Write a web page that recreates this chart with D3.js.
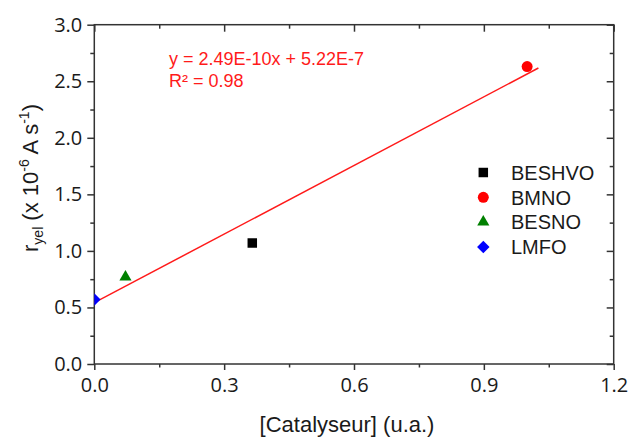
<!DOCTYPE html>
<html>
<head>
<meta charset="utf-8">
<script src="https://cdn.jsdelivr.net/npm/d3@7"></script>
<style>
  html, body { margin: 0; padding: 0; background: #fff; }
  svg { display: block; }
</style>
</head>
<body>
<div id="chart"></div>
<script>
// ---- data ----
const categories = ["BESHVO", "BMNO", "BESNO", "LMFO"];
const xValues = [0.365, 1.0, 0.072, 0.0];
const yValues = [1.07, 2.63, 0.77, 0.57];
const seriesColors = ["#000000", "#ff0000", "#008000", "#0000ff"];
const seriesShapes = ["square", "circle", "triangle", "diamond"];
const fitX = [0, 1.026];
const fitY = [0.542, 2.617];
const xTicks = [0, 0.3, 0.6, 0.9, 1.2];
const xTickLabels = ["0.0", "0.3", "0.6", "0.9", "1.2"];
const xMinorTicks = [0.15, 0.45, 0.75, 1.05];
const yTicks = [0, 0.5, 1.0, 1.5, 2.0, 2.5, 3.0];
const yTickLabels = ["0.0", "0.5", "1.0", "1.5", "2.0", "2.5", "3.0"];
const yMinorTicks = [0.25, 0.75, 1.25, 1.75, 2.25, 2.75];
const equationLines = ["y = 2.49E-10x + 5.22E-7", "R² = 0.98"];

// ---- layout ----
const W = 630, H = 437;
const L = 94.3, R = 613.7, T = 24.7, B = 364;
const axisColor = "#333";
const sansFont = "'Liberation Sans', Arial, sans-serif";
const tickFont = "'Open Sans', 'Liberation Sans', sans-serif";

const svg = d3.select("#chart").append("svg").attr("width", W).attr("height", H);

const x = d3.scaleLinear().domain([0, 1.2]).range([L, R]);
const y = d3.scaleLinear().domain([0, 3.0]).range([B, T]);

svg.append("defs").append("clipPath").attr("id", "clip")
  .append("rect").attr("x", L).attr("y", T).attr("width", R - L).attr("height", B - T);

// axes with d3 axis generators
function styleAxis(g) {
  g.select(".domain").remove();
  g.selectAll("line").attr("stroke", axisColor).attr("stroke-width", 1.5);
  g.selectAll("text").attr("fill", "#1a1a1a").attr("font-family", tickFont).attr("font-size", 20);
}
// bottom major
svg.append("g").attr("transform", `translate(0,${B})`)
  .call(d3.axisBottom(x).tickValues(xTicks).tickFormat((d, i) => xTickLabels[i]).tickSize(6).tickPadding(8))
  .call(styleAxis);
// bottom minor
svg.append("g").attr("transform", `translate(0,${B})`)
  .call(d3.axisBottom(x).tickValues(xMinorTicks).tickFormat("").tickSize(3.5))
  .call(styleAxis);
// left major
svg.append("g").attr("transform", `translate(${L},0)`)
  .call(d3.axisLeft(y).tickValues(yTicks).tickFormat((d, i) => yTickLabels[i]).tickSize(7).tickPadding(5))
  .call(styleAxis);
// left minor
svg.append("g").attr("transform", `translate(${L},0)`)
  .call(d3.axisLeft(y).tickValues(yMinorTicks).tickFormat("").tickSize(4))
  .call(styleAxis);
// top (inward)
svg.append("g").attr("transform", `translate(0,${T})`)
  .call(d3.axisTop(x).tickValues(xTicks).tickFormat("").tickSize(-7))
  .call(styleAxis);
svg.append("g").attr("transform", `translate(0,${T})`)
  .call(d3.axisTop(x).tickValues(xMinorTicks).tickFormat("").tickSize(-4))
  .call(styleAxis);
// right (inward)
svg.append("g").attr("transform", `translate(${R},0)`)
  .call(d3.axisRight(y).tickValues(yTicks).tickFormat("").tickSize(-7))
  .call(styleAxis);
svg.append("g").attr("transform", `translate(${R},0)`)
  .call(d3.axisRight(y).tickValues(yMinorTicks).tickFormat("").tickSize(-4))
  .call(styleAxis);

// frame
svg.append("rect").attr("x", L).attr("y", T).attr("width", R - L).attr("height", B - T)
  .attr("fill", "none").attr("stroke", axisColor).attr("stroke-width", 1.5);

// symbols
function symbolPath(shape) {
  if (shape === "square") return d3.symbol(d3.symbolSquare, 90)();
  if (shape === "circle") return d3.symbol(d3.symbolCircle, 95)();
  if (shape === "triangle") return d3.symbol(d3.symbolTriangle, 64)();
  return d3.symbol(d3.symbolSquare, 78)();
}
function symbolRotate(shape) { return shape === "diamond" ? " rotate(45)" : ""; }

// fit line
const plot = svg.append("g").attr("clip-path", "url(#clip)");
plot.append("path")
  .datum(fitX.map((d, i) => [d, fitY[i]]))
  .attr("d", d3.line().x(d => x(d[0])).y(d => y(d[1])))
  .attr("fill", "none").attr("stroke", "#ff1a1a").attr("stroke-width", 1.5);

// points
plot.selectAll(".pt").data(categories).enter().append("path")
  .attr("class", "pt")
  .attr("d", (d, i) => symbolPath(seriesShapes[i]))
  .attr("transform", (d, i) => `translate(${x(xValues[i])},${y(yValues[i])})` + symbolRotate(seriesShapes[i]))
  .attr("fill", (d, i) => seriesColors[i]);

// equation
svg.append("g").selectAll("text").data(equationLines).enter().append("text")
  .attr("x", 169).attr("y", (d, i) => 65 + i * 21.5)
  .attr("font-family", sansFont).attr("font-size", 18).attr("fill", "#ff1a1a")
  .text(d => d);

// legend
const leg = svg.append("g");
categories.forEach((c, i) => {
  const cy = 172.5 + i * 24.8;
  leg.append("path").attr("d", symbolPath(seriesShapes[i]))
    .attr("transform", `translate(483.3,${cy})` + symbolRotate(seriesShapes[i]))
    .attr("fill", seriesColors[i]);
  leg.append("text").attr("x", 511).attr("y", cy + 7.3)
    .attr("font-family", sansFont).attr("font-size", 20).attr("fill", "#1a1a1a")
    .text(c);
});

// x title
svg.append("text").attr("x", 347).attr("y", 432).attr("text-anchor", "middle")
  .attr("font-family", sansFont).attr("font-size", 22).attr("fill", "#1a1a1a")
  .text("[Catalyseur] (u.a.)");

// y title
const yt = svg.append("text").attr("transform", "translate(38,178) rotate(-90)")
  .attr("text-anchor", "middle").attr("font-family", sansFont).attr("font-size", 22).attr("fill", "#1a1a1a");
yt.append("tspan").text("r");
yt.append("tspan").attr("font-size", 14).attr("dy", 5).text("yel");
yt.append("tspan").attr("dy", -5).text(" (x 10");
yt.append("tspan").attr("font-size", 14).attr("dy", -9).text("-6");
yt.append("tspan").attr("dy", 9).text(" A s");
yt.append("tspan").attr("font-size", 14).attr("dy", -9).text("-1");
yt.append("tspan").attr("dy", 9).text(")");
</script>
</body>
</html>
